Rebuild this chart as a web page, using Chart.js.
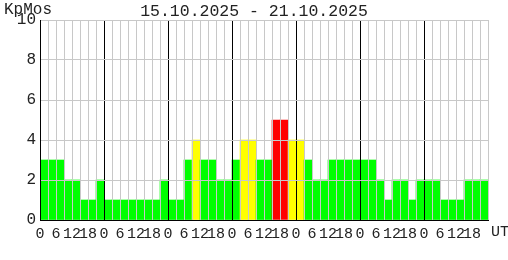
<!DOCTYPE html>
<html><head><meta charset="utf-8">
<script src="https://cdn.jsdelivr.net/npm/chart.js@4/dist/chart.umd.min.js"></script>
<style>html,body{margin:0;padding:0;background:#fff}#wrap{width:508px;height:260px}</style>
</head><body><div id="wrap"><canvas id="c" width="508" height="260"></canvas></div>
<script>
const days = ['15.10','16.10','17.10','18.10','19.10','20.10','21.10'];
const hours = ['00','03','06','09','12','15','18','21'];
const categories = days.flatMap(d => hours.map(h => d + ' ' + h));
const kpValues = [
  3,3,3,2,2,1,1,2,
  1,1,1,1,1,1,1,2,
  1,1,3,4,3,3,2,2,
  3,4,4,3,3,5,5,4,
  4,3,2,2,3,3,3,3,
  3,3,2,1,2,2,1,2,
  2,2,1,1,1,2,2,2
];
const hourTickLabels = ['0','6','12','18'];
const titleText = '15.10.2025 - 21.10.2025';
const yUnitLabel = 'KpMos';
const xUnitLabel = 'UT';

const FONT = '"Liberation Mono", "DejaVu Sans Mono", monospace';
const TEXT = '#222';
const GRID = '#c8c8c8';
function kpColor(v){ return v >= 5 ? '#ff0000' : (v >= 4 ? '#ffff00' : '#00ff00'); }

const textPlugin = {
  id: 'extraText',
  afterDraw(chart){
    const ctx = chart.ctx;
    ctx.save();
    ctx.font = '16px ' + FONT;
    ctx.fillStyle = TEXT;
    ctx.textBaseline = 'middle';
    ctx.textAlign = 'left';
    ctx.fillText(yUnitLabel, 4, 10);
    ctx.font = '15px ' + FONT;
    ctx.fillText(xUnitLabel, 491, 232);
    ctx.restore();
  }
};

new Chart(document.getElementById('c'), {
  type: 'bar',
  data: {
    labels: categories,
    datasets: [{
      data: kpValues,
      backgroundColor: kpValues.map(kpColor),
      borderWidth: 0,
      barPercentage: 1,
      categoryPercentage: 1
    }]
  },
  options: {
    responsive: false,
    devicePixelRatio: 1,
    animation: false,
    layout: { padding: 0 },
    plugins: {
      legend: { display: false },
      tooltip: { enabled: false },
      title: {
        display: true, text: titleText, color: TEXT,
        font: { family: FONT, size: 16.5, weight: 'normal', lineHeight: 1 },
        padding: { top: 3.5, bottom: 0 }
      }
    },
    scales: {
      x: {
        type: 'category',
        offset: true,
        grid: {
          z: 1,
          offset: true,
          drawTicks: false,
          lineWidth: 1,
          color: c => (c.index !== undefined && c.index % 8 === 0) ? '#000' : GRID
        },
        border: { color: '#000', width: 1, z: 2 },
        ticks: {
          autoSkip: false, maxRotation: 0, minRotation: 0,
          labelOffset: -4, padding: 5, color: TEXT,
          font: { family: FONT, size: 15 },
          callback: (v, i) => (i % 2 === 0) ? hourTickLabels[(i % 8) / 2] : ''
        },
        afterFit: s => { s.height = 40; }
      },
      y: {
        min: 0, max: 10,
        grid: { z: 1, drawTicks: false, lineWidth: 1, color: c => (c.tick && c.tick.value === 0) ? '#000' : GRID },
        border: { color: '#000', width: 1, z: 2 },
        ticks: { stepSize: 2, padding: 4, color: TEXT, font: { family: FONT, size: 16 } },
        afterFit: s => { s.width = 40; }
      },
      yRight: {
        position: 'right',
        min: 0, max: 10,
        grid: { display: false },
        border: { display: false },
        ticks: { display: false },
        afterFit: s => { s.width = 20; }
      }
    }
  },
  plugins: [textPlugin]
});
</script>
</body></html>
